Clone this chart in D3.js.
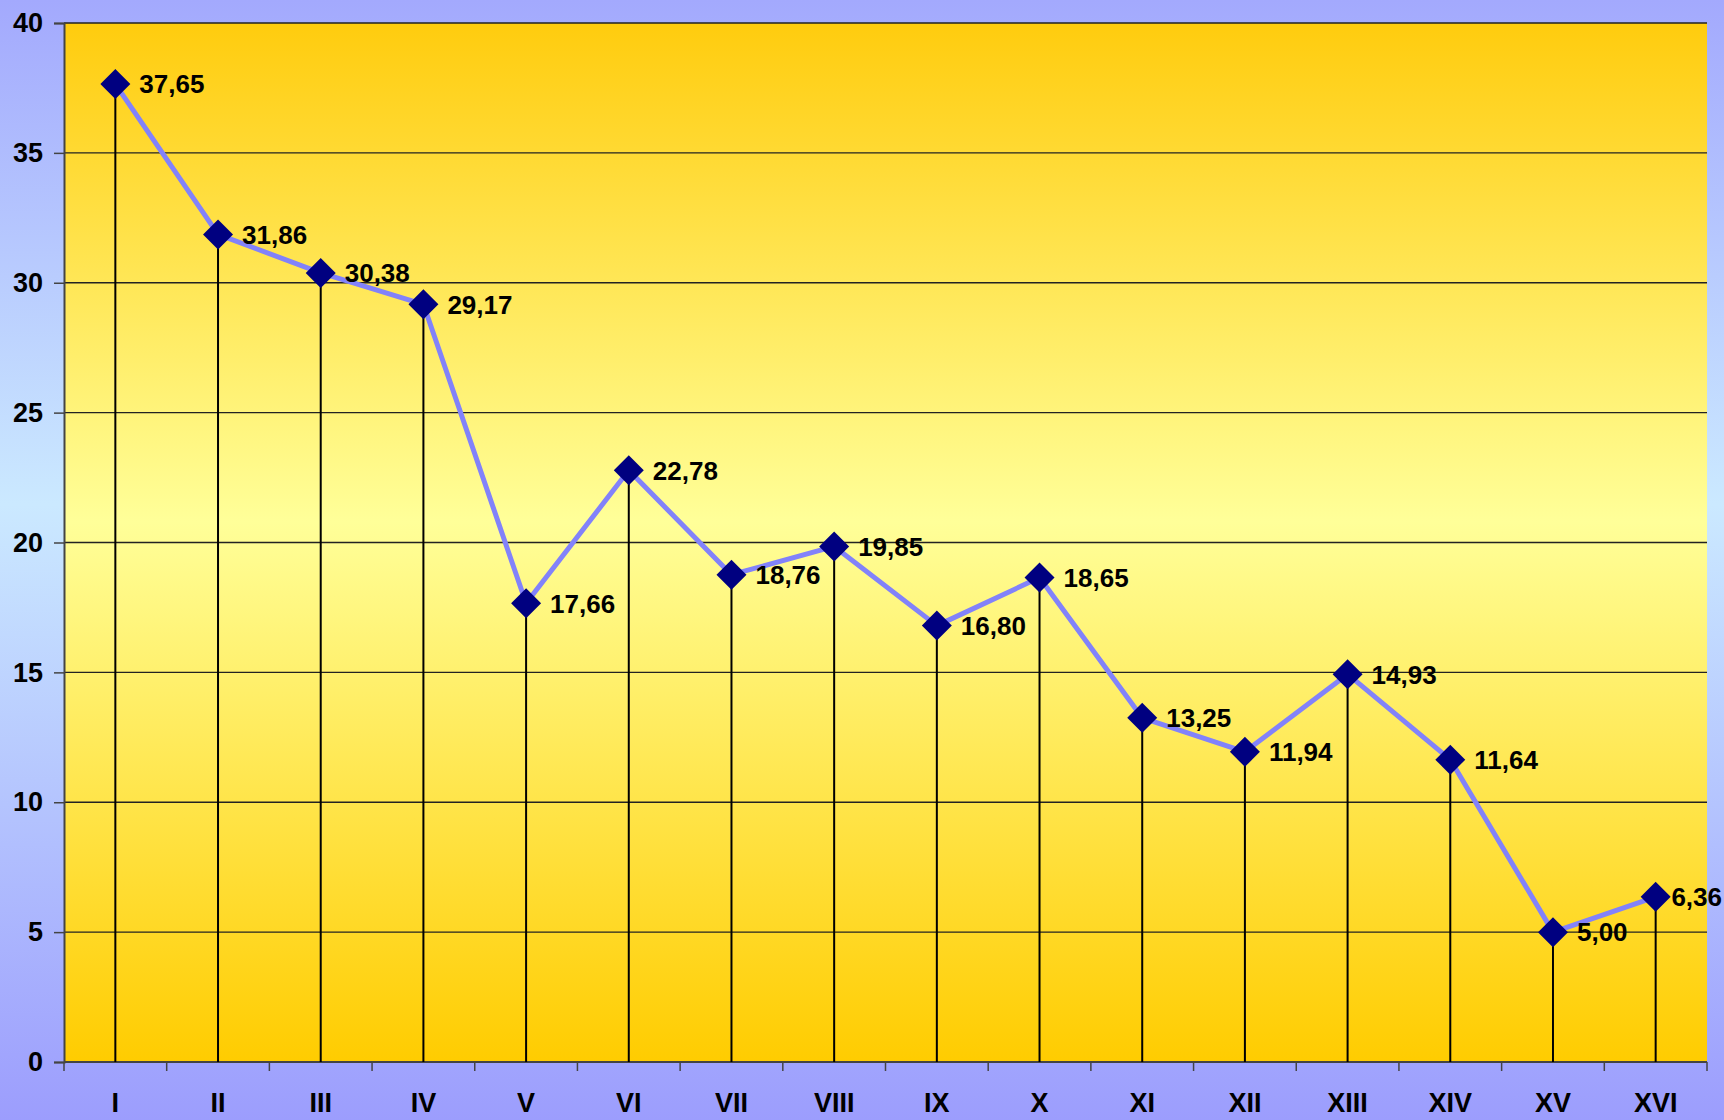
<!DOCTYPE html>
<html>
<head>
<meta charset="utf-8">
<script src="https://cdn.jsdelivr.net/npm/d3@7"></script>
<style>
  html, body { margin: 0; padding: 0; overflow: hidden; }
  svg { display: block; }
  text { font-family: "Liberation Sans", Arial, sans-serif; font-weight: bold; }
</style>
</head>
<body>
<script>
const categories = ["I", "II", "III", "IV", "V", "VI", "VII", "VIII", "IX", "X", "XI", "XII", "XIII", "XIV", "XV", "XVI"];
const values = [37.65, 31.86, 30.38, 29.17, 17.66, 22.78, 18.76, 19.85, 16.80, 18.65, 13.25, 11.94, 14.93, 11.64, 5.00, 6.36];
const yTicks = [0, 5, 10, 15, 20, 25, 30, 35, 40];

const W = 1724, H = 1120;
const plot = { left: 64, right: 1707, top: 23, bottom: 1062 };

const data = categories.map((c, i) => ({ cat: c, value: values[i] }));

const svg = d3.select("body").append("svg")
  .attr("width", W)
  .attr("height", H);

const defs = svg.append("defs");
// outer background
const bg = defs.append("linearGradient").attr("id", "bg")
  .attr("x1", 0).attr("y1", 0).attr("x2", 0).attr("y2", 1);
bg.append("stop").attr("offset", "0%").attr("stop-color", "#a3a9fd");
bg.append("stop").attr("offset", "45%").attr("stop-color", "#cbe9ff");
bg.append("stop").attr("offset", "100%").attr("stop-color", "#9c9dfd");
// plot area
const pg = defs.append("linearGradient").attr("id", "plotbg")
  .attr("x1", 0).attr("y1", 0).attr("x2", 0).attr("y2", 1);
pg.append("stop").attr("offset", "0%").attr("stop-color", "#ffcc0e");
pg.append("stop").attr("offset", "48%").attr("stop-color", "#ffff99");
pg.append("stop").attr("offset", "100%").attr("stop-color", "#ffcc00");

svg.append("rect").attr("width", W).attr("height", H).attr("fill", "url(#bg)");
svg.append("rect")
  .attr("x", plot.left).attr("y", plot.top)
  .attr("width", plot.right - plot.left).attr("height", plot.bottom - plot.top)
  .attr("fill", "url(#plotbg)");

// scales
const x = d3.scaleBand().domain(categories).range([plot.left, plot.right]);
const y = d3.scaleLinear().domain([0, 40]).range([plot.bottom, plot.top]);
const cx = (d) => x(d.cat) + x.bandwidth() / 2;

// gridlines
svg.append("g")
  .selectAll("line")
  .data(yTicks.filter((t) => t > 0))
  .join("line")
  .attr("x1", plot.left).attr("x2", plot.right)
  .attr("y1", (d) => y(d)).attr("y2", (d) => y(d))
  .attr("stroke", "#222")
  .attr("stroke-width", 1.3);

// y axis
const yAxis = svg.append("g")
  .attr("transform", `translate(${plot.left},0)`)
  .call(d3.axisLeft(y).tickValues(yTicks).tickSize(10).tickPadding(11));
yAxis.select(".domain").attr("stroke", "#444").attr("stroke-width", 2);
yAxis.selectAll(".tick line").attr("stroke", "#444").attr("stroke-width", 1.5);
yAxis.selectAll(".tick text")
  .attr("font-size", 27)
  .attr("font-family", "Liberation Sans, Arial, sans-serif")
  .attr("font-weight", "bold")
  .attr("fill", "#000");

// x axis: ticks on band boundaries, labels centred in bands
const xAxis = svg.append("g").attr("transform", `translate(0,${plot.bottom})`);
xAxis.append("line")
  .attr("x1", plot.left).attr("x2", plot.right)
  .attr("stroke", "#444").attr("stroke-width", 2);
const bounds = categories.map((c) => x(c)).concat([plot.right]);
xAxis.selectAll(".xtick")
  .data(bounds)
  .join("line")
  .attr("class", "xtick")
  .attr("x1", (d) => d).attr("x2", (d) => d)
  .attr("y1", 0).attr("y2", 9)
  .attr("stroke", "#444").attr("stroke-width", 1.5);
xAxis.selectAll(".xlabel")
  .data(categories)
  .join("text")
  .attr("class", "xlabel")
  .attr("x", (d) => x(d) + x.bandwidth() / 2)
  .attr("y", 50)
  .attr("text-anchor", "middle")
  .attr("font-size", 27)
  .text((d) => d);

// drop lines
svg.append("g")
  .selectAll("line")
  .data(data)
  .join("line")
  .attr("x1", cx).attr("x2", cx)
  .attr("y1", (d) => y(d.value)).attr("y2", plot.bottom)
  .attr("stroke", "#000")
  .attr("stroke-width", 2);

// series line
const line = d3.line().x(cx).y((d) => y(d.value));
svg.append("path")
  .datum(data)
  .attr("fill", "none")
  .attr("stroke", "#8282fa")
  .attr("stroke-width", 5)
  .attr("stroke-linejoin", "round")
  .attr("d", line);

// diamond markers
svg.append("g")
  .selectAll("path")
  .data(data)
  .join("path")
  .attr("transform", (d) => `translate(${cx(d)},${y(d.value)})`)
  .attr("d", "M0,-15L15,0L0,15L-15,0Z")
  .attr("fill", "#000080");

// value labels
svg.append("g")
  .selectAll("text")
  .data(data)
  .join("text")
  .attr("x", (d) => cx(d) + 24)
  .attr("y", (d) => y(d.value))
  .attr("dy", "0.36em")
  .attr("font-size", 26)
  .attr("fill", "#000")
  .text((d) => d3.format(".2f")(d.value).replace(".", ","))
  .each(function () {
    const t = d3.select(this);
    const len = this.getComputedTextLength();
    const x0 = +t.attr("x");
    if (x0 + len > W - 2) t.attr("x", W - 2 - len);
  });
</script>
</body>
</html>
